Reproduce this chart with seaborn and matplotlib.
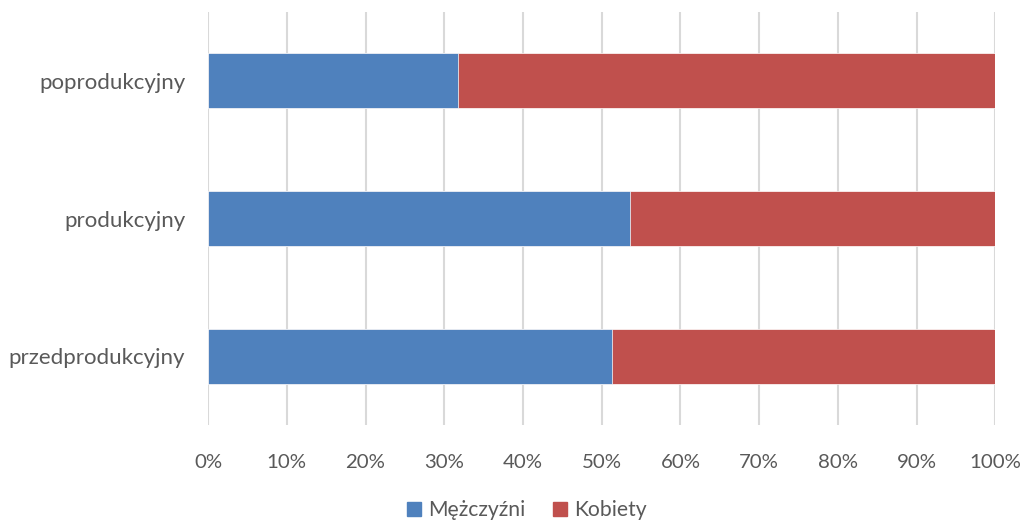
import pandas as pd
import matplotlib.pyplot as plt
import seaborn as sns
from matplotlib.ticker import PercentFormatter
from matplotlib.patches import Patch

# dane
categories = ['poprodukcyjny', 'produkcyjny', 'przedprodukcyjny']
mezczyzni = [31.8, 53.6, 51.3]
kobiety = [100 - m for m in mezczyzni]

df = pd.DataFrame({'grupa': categories, 'Mężczyźni': mezczyzni, 'Kobiety': kobiety})
df['suma'] = df['Mężczyźni'] + df['Kobiety']

sns.set_style('white')
plt.rcParams['font.family'] = ['Lato', 'DejaVu Sans']

fig = plt.figure(figsize=(10.25, 5.24), dpi=100)
ax = fig.add_axes([0.203, 0.189, 0.768, 0.788])

blue = '#4F81BD'
red = '#C0504D'

# skumulowane słupki: najpierw suma (czerwony), potem mężczyźni (niebieski)
sns.barplot(data=df, y='grupa', x='suma', color=red, width=0.4, ax=ax,
            saturation=1, edgecolor='white', linewidth=0.5, zorder=3)
sns.barplot(data=df, y='grupa', x='Mężczyźni', color=blue, width=0.4, ax=ax,
            saturation=1, edgecolor='white', linewidth=0.5, zorder=3)

ax.set_xlim(0, 100)
ax.set_ylim(2.5, -0.5)
ax.set_xticks(range(0, 101, 10))
ax.xaxis.set_major_formatter(PercentFormatter(decimals=0))
ax.set_xlabel('')
ax.set_ylabel('')
ax.grid(axis='x', color='#D9D9D9', linewidth=1.5, zorder=0)
ax.grid(axis='y', visible=False)
for s in ax.spines.values():
    s.set_visible(False)
ax.tick_params(axis='both', length=0, labelcolor='#595959')
ax.tick_params(axis='x', pad=21, labelsize=14.7)
ax.tick_params(axis='y', pad=16.5, labelsize=16)

handles = [Patch(color=blue, label='Mężczyźni'), Patch(color=red, label='Kobiety')]
leg = fig.legend(handles=handles, loc='center', bbox_to_anchor=(0.514, 0.026), ncol=2,
                 frameon=False, fontsize=15.2, handlelength=0.65, handleheight=0.65,
                 handletextpad=0.35, columnspacing=1.3)
for t in leg.get_texts():
    t.set_color('#595959')

fig.savefig('out.png', dpi=100)
